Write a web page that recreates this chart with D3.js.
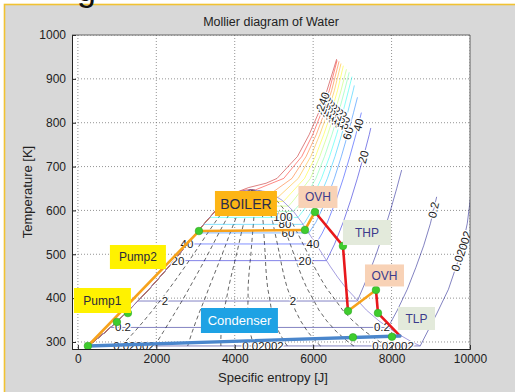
<!DOCTYPE html>
<html>
<head>
<meta charset="utf-8">
<script src="https://cdn.jsdelivr.net/npm/d3@7"></script>
<style>
  body { margin: 0; background: #fff; }
  svg { display: block; font-family: "Liberation Sans", Arial, sans-serif; }
</style>
</head>
<body>
<script>
// saturation table of water, T [K] with liquid / vapour entropy [J/kg/K]
const satT    = [291, 300, 323, 348, 373, 398, 423, 448, 473, 498, 523, 548, 573, 598, 623, 638, 643, 647.1]
const satLiqS = [261, 393, 704, 1016, 1307, 1581, 1842, 2091, 2331, 2565, 2793, 3019, 3254, 3500, 3778, 4000, 4111, 4407]
const satVapS = [8730, 8520, 8075, 7680, 7355, 7100, 6838, 6623, 6431, 6254, 6073, 5890, 5705, 5497, 5211, 4943, 4800, 4407]

// isobars (contour levels) in bar
const pressures = [0.02002, 0.2, 2, 20, 40, 60, 80, 100, 120, 140, 160, 180, 200, 220, 240]
const boilT     = [290.9, 333.2, 393.4, 485.5, 523.5, 548.7, 568.2, 584.1, 597.8, 609.8, 620.5, 630.2, 638.9, 646.9, null]
const boilLiqS  = [261, 832, 1530, 2447, 2797, 3027, 3207, 3360, 3497, 3623, 3746, 3871, 4015, 4290, null]
// vapour side of every isobar, [s, T] pairs up to where the contour stops
const vapour = [
  [[8730, 291], [9160, 366], [9450, 420], [9780, 507], [9930, 570], [10000, 620], [10060, 670]],
  [[7908, 333.2], [8150, 373], [8400, 420], [8620, 470], [8820, 520], [8990, 570], [9150, 631]],
  [[7127, 393.4], [7396, 450], [7607, 500], [7797, 550], [7971, 600], [8131, 650], [8257, 692]],
  [[6340, 485.5], [6545, 523], [6766, 573], [6956, 623], [7127, 673], [7285, 723], [7432, 773], [7470, 788]],
  [[6070, 523.5], [6230, 548], [6364, 573], [6584, 623], [6769, 673], [6935, 723], [7090, 773], [7230, 823]],
  [[5890, 548.7], [6070, 573], [6335, 623], [6541, 673], [6719, 723], [6880, 773], [7030, 823], [7130, 858]],
  [[5745, 568.2], [5790, 573], [6130, 623], [6364, 673], [6557, 723], [6727, 773], [6880, 823], [7020, 873], [7050, 885]],
  [[5615, 584.1], [5946, 623], [6212, 673], [6419, 723], [6597, 773], [6756, 823], [6900, 873], [6990, 905]],
  [[5493, 597.8], [5750, 623], [6070, 673], [6290, 723], [6480, 773], [6650, 823], [6800, 873], [6920, 915]],
  [[5373, 609.8], [5500, 623], [5930, 673], [6170, 723], [6370, 773], [6550, 823], [6710, 873], [6850, 922]],
  [[5245, 620.5], [5270, 623], [5780, 673], [6060, 723], [6270, 773], [6460, 823], [6620, 873], [6770, 930]],
  [[5105, 630.2], [5620, 673], [5940, 723], [6170, 773], [6370, 823], [6540, 873], [6710, 935]],
  [[4927, 638.9], [5460, 673], [5820, 723], [6080, 773], [6290, 823], [6470, 873], [6660, 940]],
  [[4530, 646.9], [5250, 673], [5710, 723], [5990, 773], [6210, 823], [6410, 873], [6610, 942]],
  [[3778, 623], [4000, 640], [4350, 652], [4800, 662], [5080, 673], [5600, 723], [5900, 773], [6140, 823], [6350, 873], [6600, 945]]
]
// contour labels: level, entropy (null = on vapour side), temperature
const labelP = [0.02002, 0.02002, 0.02002, 0.2, 0.2, 2, 2, 20, 20, 40, 40, 60, 80, 100,
                0.02002, 0.2, 2, 20, 40, 60, 80, 100, 120, 140, 160, 180, 200, 220, 240]
const labelS = [1429, 4719, 8036, 1148, 7755, 2219, 5485, 2551, 5791, 2780, 5995, 5357, 5281, 5230,
                null, null, null, null, null, null, null, null, null, null, null, null, null, null, null]
const labelT = [null, null, null, null, null, null, null, null, null, null, null, null, null, null,
                507, 601, 533, 722, 795, 776, 800, 806, 812, 818, 824, 830, 836, 842, 848]

const qualities = [0.1, 0.2, 0.3, 0.4, 0.5, 0.6, 0.7, 0.8, 0.9]

// Rankine cycle states
const cycleS = [255, 995, 1276, 3087, 5791, 6046, 6760, 6888, 7602, 7653, 8214]
const cycleT = [290.9, 345.6, 366, 553, 555.4, 596.5, 519, 370.7, 418.6, 366, 313.7]
const legs = [[0, 3, 'pump'], [3, 4, 'heat'], [4, 5, 'heat'], [5, 6, 'turb'], [6, 7, 'turb'],
              [7, 8, 'heat'], [8, 9, 'turb'], [9, 10, 'turb'], [10, 0, 'cond']]
const dotS = [255, 995, 1276, 3087, 5791, 6046, 6760, 6888, 7602, 7653, 7015, 8010]
const dotT = [290.9, 345.6, 366, 553, 555.4, 596.5, 519, 370.7, 418.6, 366, 310.7, 312]

// boxed annotations
const boxText = ['BOILER', 'OVH', 'THP', 'OVH', 'TLP', 'Condenser', 'Pump2', 'Pump1']
const boxS = [4286, 6122, 7372, 7819, 8635, 4120, 1531, 625]
const boxT = [615.8, 630.7, 549.7, 451.7, 353.6, 349, 493.8, 394.6]

const xTicks = [0, 2000, 4000, 6000, 8000, 10000]
const yTicks = [300, 400, 500, 600, 700, 800, 900, 1000]

const W = 515, H = 392
const x = d3.scaleLinear().domain([-150, 10000]).range([72, 470])
const y = d3.scaleLinear().domain([284, 1000]).range([349, 35])

const legColor = { pump: '#f7a21b', heat: '#f7a21b', turb: '#e8181c', cond: '#4a86cc' }
const legWidth = { pump: 2.6, heat: 2.6, turb: 2.6, cond: 3.4 }
const boxStyle = {
  BOILER: ['#fdb515', '#2b2b4a', 14], OVH: ['#f8d2b6', '#3b3b8c', 12], THP: ['#e3eadb', '#3b3b8c', 12],
  TLP: ['#e3eadb', '#3b3b8c', 12], Condenser: ['#1ea2e4', '#ffffff', 13], Pump2: ['#fff200', '#2b2b3a', 12],
  Pump1: ['#fff200', '#2b2b3a', 12]
}
const boxSize = { BOILER: [62, 25], OVH: [39, 22], THP: [48, 25], TLP: [37, 23], Condenser: [77, 25], Pump2: [56, 24], Pump1: [57, 25] }

function jet(t) {
  const c = v => Math.round(255 * Math.max(0, Math.min(1, v)))
  return d3.rgb(c(Math.min(4 * t - 1.5, -4 * t + 4.5)), c(Math.min(4 * t - 0.5, -4 * t + 3.5)), c(Math.min(4 * t + 0.5, -4 * t + 2.5)))
}
const levelColor = d3.scaleLinear().domain([0, 255]).range([0, 1])

var svg = d3.select('body').append('svg').attr('width', W).attr('height', H)

// figure background with slide border
svg.append('rect').attr('x', 4.5).attr('y', 4.5).attr('width', 530).attr('height', 400)
  .attr('fill', '#d8d8d8').attr('stroke', '#f1c232').attr('stroke-width', 1.6)
svg.append('text').attr('x', 77).attr('y', 1).attr('font-size', 34).attr('fill', '#111').text('g')

svg.append('rect').attr('x', 72).attr('y', 35).attr('width', 398).attr('height', 314).attr('fill', '#fff')
svg.append('clipPath').attr('id', 'plot').append('rect')
  .attr('x', 72).attr('y', 35).attr('width', 398).attr('height', 314)

var g = svg.append('g').attr('clip-path', 'url(#plot)')

// grid
g.selectAll('line.gx').data(xTicks).enter().append('line')
  .attr('x1', d => x(d)).attr('x2', d => x(d)).attr('y1', 35).attr('y2', 349)
  .attr('stroke', '#666').attr('stroke-width', 0.7).attr('stroke-dasharray', '1,2')
g.selectAll('line.gy').data(yTicks).enter().append('line')
  .attr('y1', d => y(d)).attr('y2', d => y(d)).attr('x1', 72).attr('x2', 470)
  .attr('stroke', '#666').attr('stroke-width', 0.7).attr('stroke-dasharray', '1,2')

var line = d3.line().x(d => x(d[0])).y(d => y(d[1]))

// constant quality lines inside the dome
qualities.forEach(q => {
  var pts = satT.map((t, k) => [satLiqS[k] + q * (satVapS[k] - satLiqS[k]), t])
  g.append('path').attr('d', line(pts)).attr('fill', 'none')
    .attr('stroke', '#222').attr('stroke-width', 0.7).attr('stroke-dasharray', '4,3')
})

// isobars
function isobarPoints(i) {
  var branch = vapour[i]
  var tb = boilT[i] != null ? boilT[i] : branch[0][1]
  var pts = []
  satT.forEach((t, k) => { if (t < tb) pts.push([satLiqS[k], t]) })
  if (boilT[i] != null) pts.push([boilLiqS[i], boilT[i]])
  return pts.concat(branch)
}
pressures.forEach((p, i) => {
  g.append('path').attr('d', line(isobarPoints(i))).attr('fill', 'none')
    .attr('stroke', jet(levelColor(p))).attr('stroke-width', 0.9).attr('stroke-opacity', 0.55)
})

// saturation dome
var dome = satT.map((t, k) => [satLiqS[k], t]).concat(satT.map((t, k) => [satVapS[k], t]).reverse())
g.append('path').attr('d', line(dome)).attr('fill', 'none')
  .attr('stroke', '#8f86d8').attr('stroke-width', 1).attr('stroke-opacity', 0.8)

// contour labels
function onBranch(branch, T) {
  for (var k = 1; k < branch.length; k++) {
    var a = branch[k - 1], b = branch[k]
    if (T >= a[1] && T <= b[1]) {
      var f = (T - a[1]) / (b[1] - a[1])
      var ang = Math.atan2(y(b[1]) - y(a[1]), x(b[0]) - x(a[0])) * 180 / Math.PI
      return [a[0] + f * (b[0] - a[0]), ang]
    }
  }
  var last = branch[branch.length - 1]
  return [last[0], -70]
}
labelP.forEach((p, j) => {
  var i = pressures.indexOf(p)
  var s, T, ang = 0
  if (labelS[j] != null) { s = labelS[j]; T = boilT[i] }
  else { T = labelT[j]; var r = onBranch(vapour[i], T); s = r[0]; ang = r[1] }
  g.append('text')
    .attr('transform', 'translate(' + x(s) + ',' + y(T) + ') rotate(' + ang + ')')
    .attr('text-anchor', 'middle').attr('dy', '0.35em').attr('font-size', 11.5)
    .attr('fill', '#1a1a1a').attr('stroke', '#fff').attr('stroke-width', 2.5)
    .attr('paint-order', 'stroke').text(String(p))
})

// cycle
legs.forEach(l => {
  g.append('line')
    .attr('x1', x(cycleS[l[0]])).attr('y1', y(cycleT[l[0]]))
    .attr('x2', x(cycleS[l[1]])).attr('y2', y(cycleT[l[1]]))
    .attr('stroke', legColor[l[2]]).attr('stroke-width', legWidth[l[2]]).attr('stroke-linecap', 'round')
})
g.selectAll('circle.state').data(dotS).enter().append('circle')
  .attr('cx', d => x(d)).attr('cy', (d, k) => y(dotT[k])).attr('r', 3.8)
  .attr('fill', '#3fcc2e').attr('stroke', '#2fa824').attr('stroke-width', 0.6)

// axes
var ax = svg.append('g').attr('transform', 'translate(0,349)')
  .call(d3.axisBottom(x).tickValues(xTicks).tickSize(-4).tickPadding(5).tickFormat(d3.format('d')))
var ay = svg.append('g').attr('transform', 'translate(72,0)')
  .call(d3.axisLeft(y).tickValues(yTicks).tickSize(-4).tickPadding(6).tickFormat(d3.format('d')))
;[ax, ay].forEach(a => {
  a.select('.domain').attr('stroke', '#222')
  a.selectAll('text').attr('font-size', 12).attr('fill', '#222').attr('font-family', '"Liberation Sans", Arial, sans-serif')
  a.selectAll('line').attr('stroke', '#222')
})
svg.append('line').attr('x1', 72).attr('x2', 470).attr('y1', 35).attr('y2', 35).attr('stroke', '#444').attr('stroke-width', 0.8)
svg.append('line').attr('x1', 470).attr('x2', 470).attr('y1', 35).attr('y2', 349).attr('stroke', '#444').attr('stroke-width', 0.8)

// annotation boxes
boxText.forEach((t, k) => {
  var st = boxStyle[t], sz = boxSize[t]
  var cx = x(boxS[k]), cy = y(boxT[k])
  svg.append('rect').attr('x', cx - sz[0] / 2).attr('y', cy - sz[1] / 2)
    .attr('width', sz[0]).attr('height', sz[1]).attr('fill', st[0])
  svg.append('text').attr('x', cx).attr('y', cy).attr('dy', '0.36em')
    .attr('text-anchor', 'middle').attr('font-size', st[2]).attr('fill', st[1]).text(t)
})

// titles
svg.append('text').attr('x', 271).attr('y', 26).attr('text-anchor', 'middle')
  .attr('font-size', 12.5).attr('fill', '#222').text('Mollier diagram of Water')
svg.append('text').attr('x', 273).attr('y', 382).attr('text-anchor', 'middle')
  .attr('font-size', 13).attr('fill', '#222').text('Specific entropy [J]')
svg.append('text').attr('transform', 'translate(32,192) rotate(-90)').attr('text-anchor', 'middle')
  .attr('font-size', 13).attr('fill', '#222').text('Temperature [K]')
</script>
</body>
</html>
